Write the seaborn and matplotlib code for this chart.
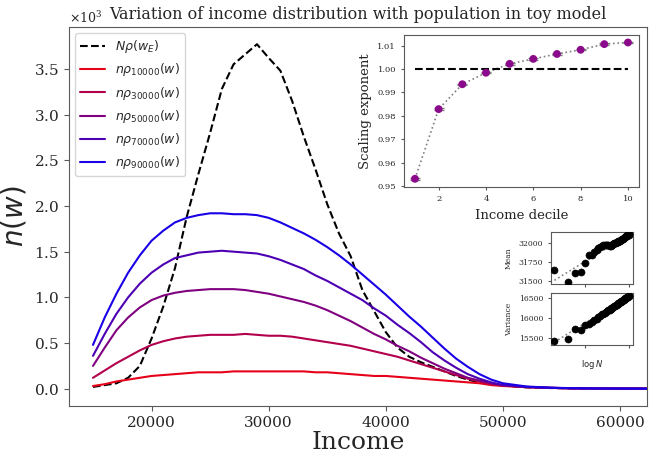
import numpy as np
import pandas as pd
import matplotlib
matplotlib.use("Agg")
import matplotlib.pyplot as plt
import seaborn as sns

income = [15000, 16000, 17000, 18000, 19000, 20000, 21000, 22000, 23000, 24000,
          25000, 26000, 27000, 28000, 29000, 30000, 31000, 32000, 33000, 34000,
          35000, 36000, 37000, 38000, 39000, 40000, 41000, 42000, 43000, 44000,
          45000, 46000, 47000, 48000, 49000, 50000, 52000, 54000, 56000, 58000,
          60000, 62500]

n_equil = [0.02, 0.04, 0.06, 0.12, 0.25, 0.55, 0.90, 1.32, 1.88, 2.35,
           2.80, 3.28, 3.55, 3.66, 3.77, 3.62, 3.48, 3.15, 2.76, 2.40,
           2.02, 1.70, 1.45, 1.08, 0.85, 0.62, 0.45, 0.35, 0.29, 0.24,
           0.19, 0.14, 0.10, 0.07, 0.05, 0.035, 0.015, 0.008, 0.004, 0.002,
           0.001, 0.0]

n_10000 = [0.03, 0.05, 0.08, 0.10, 0.12, 0.14, 0.15, 0.16, 0.17, 0.18,
           0.18, 0.18, 0.19, 0.19, 0.19, 0.19, 0.19, 0.19, 0.19, 0.18,
           0.18, 0.17, 0.16, 0.15, 0.14, 0.14, 0.13, 0.12, 0.11, 0.10,
           0.09, 0.08, 0.07, 0.06, 0.04, 0.03, 0.018, 0.010, 0.005, 0.003,
           0.002, 0.001]

n_30000 = [0.12, 0.20, 0.28, 0.35, 0.42, 0.48, 0.52, 0.55, 0.57, 0.58,
           0.59, 0.59, 0.59, 0.60, 0.59, 0.58, 0.58, 0.57, 0.55, 0.53,
           0.51, 0.49, 0.47, 0.44, 0.41, 0.38, 0.35, 0.31, 0.27, 0.23,
           0.19, 0.15, 0.11, 0.08, 0.05, 0.035, 0.018, 0.009, 0.005, 0.003,
           0.002, 0.001]

n_50000 = [0.25, 0.45, 0.64, 0.78, 0.89, 0.97, 1.02, 1.05, 1.07, 1.08,
           1.09, 1.09, 1.09, 1.08, 1.06, 1.04, 1.01, 0.98, 0.95, 0.91,
           0.86, 0.80, 0.74, 0.67, 0.60, 0.54, 0.47, 0.41, 0.34, 0.28,
           0.22, 0.17, 0.12, 0.09, 0.06, 0.04, 0.02, 0.01, 0.005, 0.003,
           0.002, 0.001]

n_70000 = [0.36, 0.60, 0.82, 1.00, 1.15, 1.27, 1.36, 1.43, 1.46, 1.49,
           1.50, 1.51, 1.50, 1.49, 1.48, 1.45, 1.41, 1.36, 1.31, 1.24,
           1.18, 1.11, 1.04, 0.97, 0.88, 0.80, 0.70, 0.61, 0.51, 0.40,
           0.31, 0.23, 0.16, 0.11, 0.07, 0.04, 0.02, 0.01, 0.005, 0.003,
           0.002, 0.001]

n_90000 = [0.48, 0.78, 1.04, 1.27, 1.46, 1.62, 1.73, 1.82, 1.87, 1.90,
           1.92, 1.92, 1.91, 1.91, 1.90, 1.87, 1.82, 1.76, 1.70, 1.63,
           1.55, 1.46, 1.36, 1.25, 1.14, 1.03, 0.91, 0.79, 0.68, 0.56,
           0.44, 0.33, 0.24, 0.16, 0.10, 0.06, 0.025, 0.012, 0.006, 0.003,
           0.002, 0.001]

poblaciones = [10000, 30000, 50000, 70000, 90000]
curvas = [n_10000, n_30000, n_50000, n_70000, n_90000]

# inset: exponente de escala por decil
deciles = [1, 2, 3, 4, 5, 6, 7, 8, 9, 10]
exponente = [0.9532, 0.9829, 0.9935, 0.9984, 1.0022, 1.0043, 1.0064, 1.0082, 1.0106, 1.0113]
exponente_err = [0.0004, 0.0004, 0.0003, 0.0003, 0.0003, 0.0003, 0.0003, 0.0003, 0.0003, 0.0003]

# inset: media y varianza frente a log N
log_n = [3.30, 3.60, 3.78, 3.90, 4.00, 4.08, 4.15, 4.20, 4.26, 4.30,
         4.34, 4.38, 4.41, 4.45, 4.48, 4.51, 4.53, 4.56, 4.58, 4.60,
         4.62, 4.64, 4.66, 4.68, 4.70, 4.72, 4.74, 4.76, 4.77, 4.79,
         4.81, 4.82, 4.84, 4.85, 4.86, 4.88, 4.89, 4.90, 4.92, 4.93,
         4.94, 4.95, 4.96, 4.98, 4.99, 5.00]
media = [31645, 31491, 31604, 31625, 31734, 31845, 31837, 31879, 31908, 31937,
         31950, 31962, 31970, 31975, 31978, 31975, 31970, 31965, 31962, 31968,
         31980, 31990, 31995, 31998, 32002, 32008, 32012, 32020, 32026, 32030,
         32036, 32040, 32048, 32054, 32058, 32065, 32070, 32075, 32082, 32088,
         32092, 32096, 32100, 32106, 32110, 32116]
varianza = [15417, 15475, 15735, 15710, 15817, 15860, 15900, 15940, 15985, 16015,
            16050, 16085, 16105, 16130, 16150, 16170, 16185, 16205, 16220, 16238,
            16255, 16270, 16285, 16300, 16315, 16330, 16345, 16362, 16370, 16385,
            16400, 16408, 16422, 16430, 16438, 16452, 16460, 16468, 16482, 16490,
            16498, 16505, 16513, 16528, 16536, 16545]
ajuste_x = [3.30, 5.00]
ajuste_media = [31512, 32112]
ajuste_varianza = [15400, 16550]

# 2. ESTILO
sns.set_style("white")
plt.rcParams["font.family"] = ["DejaVu Serif"]
plt.rcParams["mathtext.fontset"] = "dejavusans"
plt.rcParams["axes.edgecolor"] = "0.35"
plt.rcParams["xtick.color"] = "0.35"
plt.rcParams["ytick.color"] = "0.35"
plt.rcParams["xtick.labelcolor"] = "0.15"
plt.rcParams["ytick.labelcolor"] = "0.15"
plt.rcParams["xtick.bottom"] = True
plt.rcParams["ytick.left"] = True

fig = plt.figure(figsize=(6.49, 4.53), dpi=100)

# 3. GRAFICO PRINCIPAL
ax = fig.add_axes([0.1063, 0.1038, 0.8906, 0.8366])

eq = np.array(n_equil) * 1000
sns.lineplot(x=income, y=eq, ax=ax, color="black", linestyle="--", linewidth=1.5,
             label=r"$N\rho(w_E)$")

for n, vals in zip(poblaciones, curvas):
    t = n / 100000
    sns.lineplot(x=income, y=np.array(vals) * 1000, ax=ax, color=(1 - t, 0, t),
                 linewidth=1.5, label=r"$n\rho_{%d}(w)$" % n)

ax.set_xlim(12950, 62300)
ax.ticklabel_format(axis="y", style="sci", scilimits=(0, 0), useMathText=True)
ax.yaxis.get_offset_text().set_fontsize(9)
ax.tick_params(labelsize=11)
ax.set_xlabel("Income", fontsize=18, labelpad=1)
ax.set_ylabel(r"$n(w)$", fontsize=20)
ax.set_title("Variation of income distribution with population in toy model", fontsize=11.5)
ax.legend(loc="upper left", fontsize=9)

# 4. INSET EXPONENTE
ax1 = fig.add_axes([0.623, 0.588, 0.361, 0.335])
sns.lineplot(x=deciles, y=exponente, ax=ax1, color="grey", linestyle=":", linewidth=1.2)
ax1.errorbar(deciles, exponente, yerr=exponente_err, fmt="none", ecolor="grey",
             capsize=3.5, elinewidth=1)
sns.scatterplot(x=deciles, y=exponente, ax=ax1, color="#8b0a8b", s=32,
                edgecolor="none", zorder=3)
ax1.hlines(1.0, deciles[0], deciles[-1], colors="black", linestyles="--", linewidth=1.5)
ax1.set_xticks([2, 4, 6, 8, 10])
ax1.tick_params(labelsize=6, length=2.5)
ax1.set_xlabel("Income decile", fontsize=9.5)
ax1.set_ylabel("Scaling exponent", fontsize=9.5)

# 5. INSETS MEDIA Y VARIANZA
ax2 = fig.add_axes([0.8485, 0.3724, 0.1264, 0.116])
sns.lineplot(x=ajuste_x, y=ajuste_media, ax=ax2, color="grey", linestyle=":", linewidth=1.2)
sns.scatterplot(x=log_n, y=media, ax=ax2, color="black", s=26, edgecolor="black", zorder=3)
ax2.set_xticks([4, 5])
ax2.set_xticklabels([])
ax2.set_yticks([31500, 31750, 32000])
ax2.tick_params(labelsize=5.5, length=2)
ax2.set_ylabel("Mean", fontsize=5.5)

ax3 = fig.add_axes([0.8485, 0.2395, 0.1264, 0.113], sharex=ax2)
sns.lineplot(x=ajuste_x, y=ajuste_varianza, ax=ax3, color="grey", linestyle=":", linewidth=1.2)
sns.scatterplot(x=log_n, y=varianza, ax=ax3, color="black", s=26, edgecolor="black", zorder=3)
ax3.set_yticks([15500, 16000, 16500])
ax3.tick_params(labelsize=5.5, length=2)
ax3.set_xlabel(r"$\log N$", fontsize=6)
ax3.set_ylabel("Variance", fontsize=5.5)

plt.savefig("out.png", dpi=100)
